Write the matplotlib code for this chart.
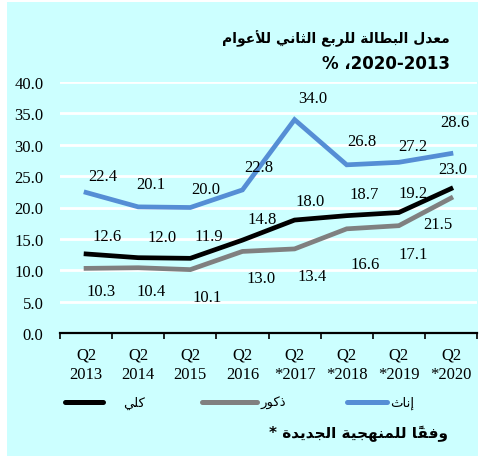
import matplotlib
matplotlib.use("Agg")
import matplotlib.pyplot as plt
from matplotlib.lines import Line2D
from matplotlib.patches import Rectangle
import numpy as np

# data
years = ["2013", "2014", "2015", "2016", "2017", "2018", "2019", "2020"]
new_method = [False, False, False, False, True, True, True, True]
total = [12.6, 12.0, 11.9, 14.8, 18.0, 18.7, 19.2, 23.0]
males = [10.3, 10.4, 10.1, 13.0, 13.4, 16.6, 17.1, 21.5]
females = [22.4, 20.1, 20.0, 22.8, 34.0, 26.8, 27.2, 28.6]

series_names = ["كلي", "ذكور", "إناث"]
title_lines = ["معدل البطالة للربع الثاني للأعوام", "2020-2013، %"]
footnote = "وفقاً للمنهجية الجديدة *"

# --- minimal arabic shaping + rtl ordering (matplotlib has none) ---
DUAL = {'ب': 0xFE8F, 'ت': 0xFE95, 'ث': 0xFE99, 'ج': 0xFE9D, 'ح': 0xFEA1, 'خ': 0xFEA5,
        'س': 0xFEB1, 'ش': 0xFEB5, 'ص': 0xFEB9, 'ض': 0xFEBD, 'ط': 0xFEC1, 'ظ': 0xFEC5,
        'ع': 0xFEC9, 'غ': 0xFECD, 'ف': 0xFED1, 'ق': 0xFED5, 'ك': 0xFED9, 'ل': 0xFEDD,
        'م': 0xFEE1, 'ن': 0xFEE5, 'ه': 0xFEE9, 'ي': 0xFEF1}
RIGHT = {'ا': 0xFE8D, 'أ': 0xFE83, 'إ': 0xFE87, 'آ': 0xFE81, 'ة': 0xFE93, 'د': 0xFEA9,
         'ذ': 0xFEAB, 'ر': 0xFEAD, 'ز': 0xFEAF, 'و': 0xFEED}
LAM_ALEF = {'ا': 0xFEFB, 'أ': 0xFEF7, 'إ': 0xFEF9, 'آ': 0xFEF5}
MARKS = set('\u064B\u064C\u064D\u064E\u064F\u0650\u0651\u0652')


def ar(text):
    n = len(text)

    def next_letter(j):
        j += 1
        while j < n and text[j] in MARKS:
            j += 1
        return j

    tokens = []
    prev_joins = False
    i = 0
    while i < n:
        c = text[i]
        if c in DUAL or c in RIGHT:
            j = next_letter(i)
            nxt = text[j] if j < n else ''
            nxt_joins = nxt in DUAL or nxt in RIGHT
            if c == 'ل' and nxt in LAM_ALEF:
                g = chr(LAM_ALEF[nxt] + (1 if prev_joins else 0))
                i = j
                prev_joins = False
            elif c in DUAL:
                idx = (3 if nxt_joins else 1) if prev_joins else (2 if nxt_joins else 0)
                g = chr(DUAL[c] + idx)
                prev_joins = True
            else:
                g = chr(RIGHT[c] + (1 if prev_joins else 0))
                prev_joins = False
            i += 1
            while i < n and text[i] in MARKS:
                g += text[i]
                i += 1
            tokens.append(g)
        elif c.isascii() and c.isalnum():
            run = ''
            while i < n and ((text[i].isascii() and text[i].isalnum()) or
                             (text[i] in '-.,' and i + 1 < n and text[i + 1].isascii() and text[i + 1].isalnum())):
                run += text[i]
                i += 1
            tokens.append(run)
            prev_joins = False
        else:
            tokens.append(c)
            prev_joins = False
            i += 1
    return ''.join(reversed(tokens))


fig = plt.figure(figsize=(4.8, 4.6), dpi=100)
fig.patch.set_facecolor("white")
fig.patches.append(Rectangle((7 / 480, 3 / 460), 471 / 480, 454 / 460, transform=fig.transFigure,
                             facecolor="#CCFFFF", edgecolor="none", zorder=-5))

ax = fig.add_axes([60 / 480, 1 - 334 / 460, 417 / 480, 251 / 460])
ax.set_facecolor("none")

x = np.arange(len(years))
colors = ["#000000", "#808080", "#558ED5"]
ax.plot(x, females, color=colors[2], lw=3.4, zorder=3, solid_joinstyle="miter")
ax.plot(x, males, color=colors[1], lw=3.4, zorder=4, solid_joinstyle="miter")
ax.plot(x, total, color=colors[0], lw=3.4, zorder=5, solid_joinstyle="miter")

ax.set_xlim(-0.5, len(years) - 0.5)
ax.set_ylim(0, 40)
ax.set_yticks(np.arange(0, 41, 5))
ax.set_yticklabels([f"{v:.1f}" for v in np.arange(0, 41, 5)], family="Liberation Serif", fontsize=12)
for v in np.arange(5, 41, 5):
    ax.axhline(v, color="white", lw=2, zorder=1)

ax.set_xticks(x)
ax.set_xticklabels([f"Q2\n{'*' if m else ''}{y}" for y, m in zip(years, new_method)],
                   family="Liberation Serif", fontsize=12, linespacing=1.3)
ax.set_xticks(np.arange(-0.5, len(years)), minor=True)
ax.tick_params(axis="x", which="major", length=0, pad=10)
ax.tick_params(axis="x", which="minor", length=4, width=1.2, direction="out", color="black")
ax.tick_params(axis="y", length=0, pad=12)
for s in ["top", "right", "left"]:
    ax.spines[s].set_visible(False)
ax.spines["bottom"].set_linewidth(1.6)
ax.spines["bottom"].set_zorder(6)

# data labels, offsets in pixels
off_f = [(17, 16), (13, 23), (15, 19), (16, 23), (18, 22), (15, 24), (14, 16), (4, 32)]
off_t = [(21, 18), (24, 21), (18, 22), (20, 21), (16, 19), (17, 22), (14, 20), (2, 20)]
off_m = [(15, -23), (13, -23), (17, -27), (19, -27), (18, -27), (18, -35), (14, -28), (-13, -26)]
for vals, offs in [(females, off_f), (total, off_t), (males, off_m)]:
    for xi, v, (dx, dy) in zip(x, vals, offs):
        ax.annotate(f"{v:.1f}", (xi, v), xytext=(dx, dy), textcoords="offset pixels",
                    ha="center", va="center", family="Liberation Serif", fontsize=12, zorder=7)

# title
fig.text(450 / 480, 1 - 39 / 460, ar(title_lines[0]), ha="right", va="center",
         family="DejaVu Sans", fontweight="bold", fontsize=10)
fig.text(450 / 480, 1 - 64 / 460, ar(title_lines[1]), ha="right", va="center",
         family="DejaVu Sans", fontweight="bold", fontsize=12)

# legend
leg = [(65, 103, 123), (202, 257, 260), (347, 387, 390)]
for (x0, x1, tx), name, col in zip(leg, series_names, colors):
    fig.add_artist(Line2D([x0 / 480, x1 / 480], [1 - 403 / 460] * 2, color=col, lw=3.6,
                          solid_capstyle="round", transform=fig.transFigure))
    fig.text(tx / 480, 1 - 403 / 460, ar(name), ha="left", va="center",
             family="DejaVu Sans", fontsize=9.5)

fig.text(448 / 480, 1 - 434 / 460, ar(footnote), ha="right", va="center",
         family="DejaVu Sans", fontweight="bold", fontsize=11)

fig.savefig("out.png", dpi=100, facecolor=fig.get_facecolor())
